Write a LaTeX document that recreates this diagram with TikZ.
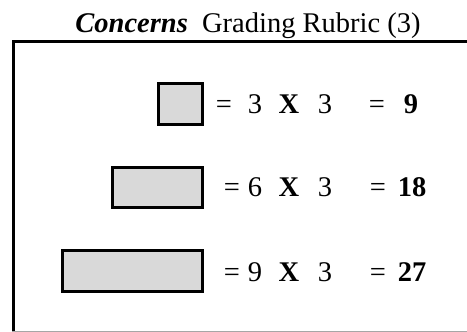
\documentclass[tikz,border=0pt]{standalone}
\usepackage{fontspec}
\setmainfont{Liberation Serif}
\begin{document}
\begin{tikzpicture}[x=1pt,y=-1pt,
  bar/.style={draw=black,line width=3pt,fill=gray!30},
  txt/.style={anchor=base,inner sep=0pt,font=\fontsize{28.5}{32}\selectfont},
  frame/.style={line width=3pt,draw=black}]
\useasboundingbox (0,0) rectangle (467,332);
% frame
\coordinate (ftl) at (13.5,41);
\coordinate (ftr) at (470,41);
\coordinate (fbl) at (13.5,335);
\coordinate (bl) at (12,331.5);
\coordinate (br) at (470,331.5);
\draw[frame] (fbl) -- (ftl) -- (ftr);
\draw[gray!70,line width=1pt] (bl) -- (br);
% title
\node[txt] (title) at (248,32) {\textbf{\textit{Concerns}}\ \ Grading Rubric (3)};
% boxes
\node[bar,minimum width=44pt,minimum height=41pt,inner sep=0pt] (b1) at (180.5,104) {};
\node[bar,minimum width=90pt,minimum height=40pt,inner sep=0pt] (b2) at (157.5,187.5) {};
\node[bar,minimum width=140pt,minimum height=41pt,inner sep=0pt] (b3) at (132.5,271) {};
% row 1
\node[txt] (r1a) at (224,113) {=};
\node[txt] (r1b) at (255,113) {3};
\node[txt] (r1c) at (289,113) {\textbf{X}};
\node[txt] (r1d) at (325,113) {3};
\node[txt] (r1e) at (377,113) {=};
\node[txt] (r1f) at (411,113) {\textbf{9}};
% row 2
\node[txt] (r2a) at (232,196.5) {=};
\node[txt] (r2b) at (255,196.5) {6};
\node[txt] (r2c) at (289,196.5) {\textbf{X}};
\node[txt] (r2d) at (325,196.5) {3};
\node[txt] (r2e) at (378,196.5) {=};
\node[txt] (r2f) at (412,196.5) {\textbf{18}};
% row 3
\node[txt] (r3a) at (232,281) {=};
\node[txt] (r3b) at (255,281) {9};
\node[txt] (r3c) at (289,281) {\textbf{X}};
\node[txt] (r3d) at (325,281) {3};
\node[txt] (r3e) at (378,281) {=};
\node[txt] (r3f) at (412,281) {\textbf{27}};
\end{tikzpicture}
\end{document}
